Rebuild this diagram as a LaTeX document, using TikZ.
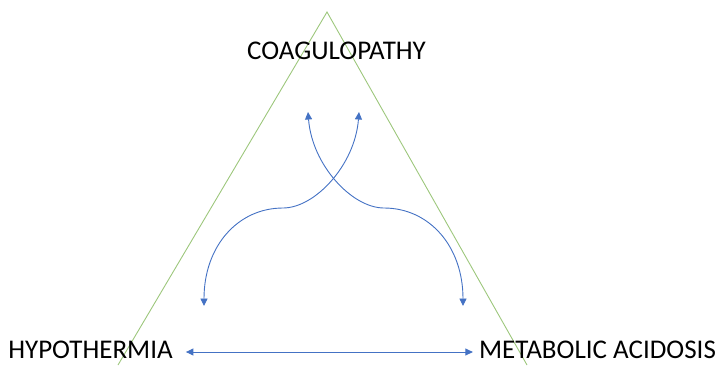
\documentclass[tikz,border=0pt]{standalone}
\usepackage{fontspec}
\setmainfont{Carlito}
\usetikzlibrary{arrows.meta}
\definecolor{tri}{HTML}{9DC77C}
\definecolor{arrblue}{HTML}{4472C4}
\tikzset{
  lbl/.style={font=\fontsize{27}{27}\selectfont, text=black, inner sep=0pt, anchor=center},
  arr/.style={draw=arrblue, line width=0.9pt, {Triangle[length=7.5pt,width=7pt]}-{Triangle[length=7.5pt,width=7pt]}},
  triline/.style={draw=tri, line width=0.9pt}
}
\begin{document}
\begin{tikzpicture}[x=1pt,y=-1pt]
\useasboundingbox (0,0) rectangle (718,365);
% triangle
\coordinate (apex) at (327,12);
\coordinate (bl) at (118,365);
\coordinate (br) at (527,365);
\draw[triline] (bl) -- (apex) -- (br);
% labels
\node[lbl] (coag) at (336.5,51) {COAGULOPATHY};
\node[lbl] (hypo) at (90.5,350) {HYPOTHERMIA};
\node[lbl] (meta) at (597.5,350) {METABOLIC ACIDOSIS};
% horizontal arrow
\draw[arr, shorten <=13pt, shorten >=6pt] ([yshift=-2]hypo.east) -- ([yshift=-2]meta.west);
% curved arrows
\coordinate (l1) at (204,306);
\coordinate (m1) at (283,208);
\coordinate (t1) at (359,112);
\coordinate (l2) at (463,306);
\coordinate (m2) at (384,208);
\coordinate (t2) at (308,112);
\draw[arr] (l1) .. controls (204,246) and (238,208) .. (m1)
  .. controls (315,208) and (355,165) .. (t1);
\draw[arr] (l2) .. controls (463,246) and (429,208) .. (m2)
  .. controls (352,208) and (312,165) .. (t2);
\end{tikzpicture}
\end{document}
